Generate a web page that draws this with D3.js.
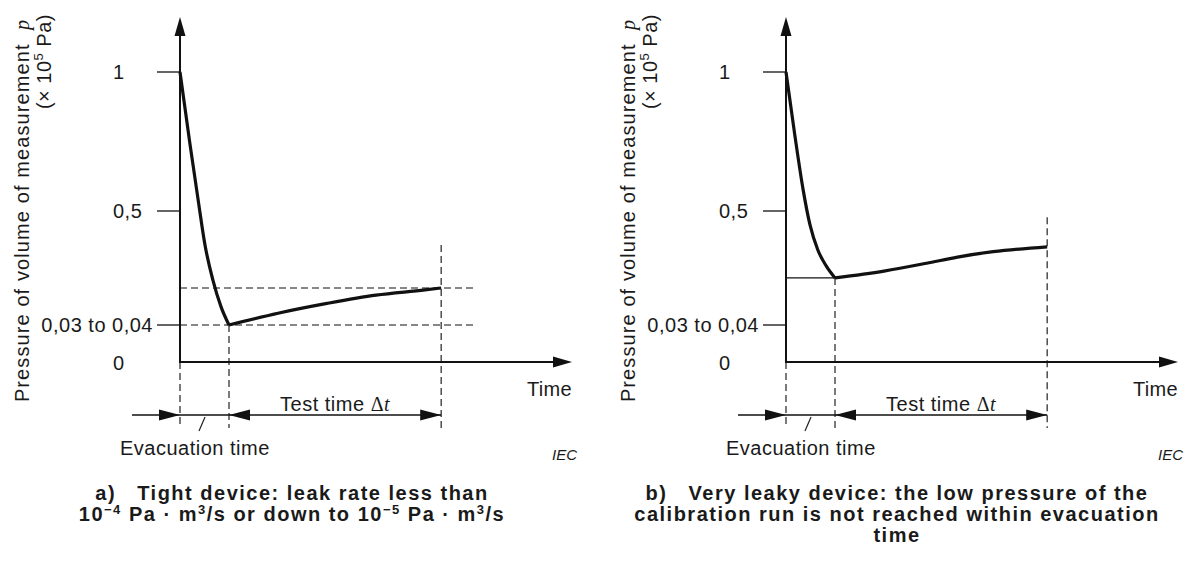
<!DOCTYPE html>
<html>
<head>
<meta charset="utf-8">
<script src="https://cdn.jsdelivr.net/npm/d3@7/dist/d3.min.js"></script>
<style>
  body { margin: 0; background: #fff; }
  text { font-family: 'Liberation Sans', Arial, sans-serif; fill: #1a1a1a; }
</style>
</head>
<body>
<div id="chart"></div>
<script>
// values (time in arbitrary units, pressure in 10^5 Pa)
const yTickValues = [1, 0.5, 0.035, 0];
const yTickLabels = ['1', '0,5', '0,03 to 0,04', '0'];
const timeMax = 8;

// a) tight device
const descentTimeA = [0, 0.2, 0.37, 0.51, 0.67, 0.84, 1];
const descentPressureA = [1, 0.745, 0.54, 0.361, 0.219, 0.108, 0.035];
const riseTimeA = [1, 2, 3, 4, 5, 5.33];
const risePressureA = [0.035, 0.083, 0.123, 0.157, 0.178, 0.186];
const levelsA = [0.186, 0.035];

// b) very leaky device
const descentTimeB = [0, 0.18, 0.35, 0.49, 0.65, 0.82, 1];
const descentPressureB = [1, 0.773, 0.576, 0.443, 0.341, 0.276, 0.227];
const riseTimeB = [1, 2, 2.87, 3.5, 4.23, 5.33];
const risePressureB = [0.227, 0.255, 0.287, 0.312, 0.334, 0.354];
const levelsB = [0.227];

const captionA = ['a)   Tight device: leak rate less than',
  '10^{\u22124} Pa \u00b7 m^{3}/s or down to 10^{\u22125} Pa \u00b7 m^{3}/s'];
const captionB = ['b)   Very leaky device: the low pressure of the',
  'calibration run is not reached within evacuation',
  'time'];

(function() {

  const svgSize = { x: 1189, y: 570 };
  const plot = { top: 17, width: 392 };
  const yRange = [72, 211, 325, 362];

  const panels = [
    { axisX: 180, captionX: 292, caption: captionA,
      descent: d3.zip(descentTimeA, descentPressureA),
      rise: d3.zip(riseTimeA, risePressureA),
      levels: levelsA, levelEnd: 6.02, levelDash: '7,4', markTop: 0.361 },
    { axisX: 786, captionX: 897, caption: captionB,
      descent: d3.zip(descentTimeB, descentPressureB),
      rise: d3.zip(riseTimeB, risePressureB),
      levels: levelsB, levelEnd: 1, levelDash: null, markTop: 0.475 }
  ];

  let svg = d3.select('#chart')
    .append('svg')
    .attr('width', svgSize.x)
    .attr('height', svgSize.y);

  function arrowHead(g, tx, ty, dir, len, half) {
    // dir: 'up', 'right', 'left'
    let pts;
    if (dir == 'up') pts = [[tx, ty], [tx - half, ty + len], [tx + half, ty + len]];
    else if (dir == 'right') pts = [[tx, ty], [tx - len, ty - half], [tx - len, ty + half]];
    else pts = [[tx, ty], [tx + len, ty - half], [tx + len, ty + half]];
    g.append('path')
      .attr('d', 'M' + pts.join('L') + 'Z')
      .attr('fill', '#111');
  }

  function vline(g, xx, y1, y2, dash) {
    g.append('line')
      .attr('x1', xx).attr('x2', xx)
      .attr('y1', y1).attr('y2', y2)
      .attr('stroke', '#222')
      .attr('stroke-width', 1.2)
      .attr('stroke-dasharray', dash);
  }

  function hline(g, x1, x2, yy, dash, w) {
    g.append('line')
      .attr('x1', x1).attr('x2', x2)
      .attr('y1', yy).attr('y2', yy)
      .attr('stroke', '#111')
      .attr('stroke-width', w || 1.2)
      .attr('stroke-dasharray', dash);
  }

  // text with ^{...} superscripts
  function richText(t, str, supSize, shift) {
    const parts = str.split(/\^\{([^}]*)\}/);
    let shifted = false;
    parts.forEach((part, i) => {
      if (part === '') return;
      const span = t.append('tspan').text(part);
      if (i % 2 == 1) {
        span.attr('font-size', supSize).attr('dy', shifted ? 0 : -shift);
        shifted = true;
      } else {
        span.attr('dy', shifted ? shift : 0);
        shifted = false;
      }
    });
  }

  function drawPanel(p) {
    const g = svg.append('g');
    const x = d3.scaleLinear().domain([0, timeMax]).range([p.axisX, p.axisX + plot.width]);
    const y = d3.scaleLinear().domain(yTickValues).range(yRange);
    const x0 = x(0), y0 = y(0);
    const pMin = p.rise[0][1];
    const tEvac = p.rise[0][0];
    const tTest = p.rise[p.rise.length - 1][0];
    const dimY = y0 + 53;
    const markBottom = y0 + 66;

    // reference levels
    p.levels.forEach(v => hline(g, x0, x(p.levelEnd), y(v), p.levelDash, 1.2));

    // vertical marks
    vline(g, x0, y0, markBottom, '7,4');
    vline(g, x(tEvac), y(pMin), markBottom, '7,4');
    vline(g, x(tTest), y(p.markTop), markBottom, '7,4');

    // y ticks and labels
    yTickValues.forEach((v, i) => {
      if (v > 0) hline(g, x0 - 23, x0, y(v), null, 1.3);
      const label = yTickLabels[i];
      g.append('text')
        .attr('x', label.length > 4 ? x0 - 27 : x0 - 67)
        .attr('y', y(v) + (v > 0 ? 7 : 8))
        .attr('text-anchor', label.length > 4 ? 'end' : 'start')
        .attr('font-size', 20)
        .attr('letter-spacing', 0.5)
        .text(label);
    });

    // axes
    g.append('line')
      .attr('x1', x0).attr('x2', x0)
      .attr('y1', y0).attr('y2', plot.top + 12)
      .attr('stroke', '#111').attr('stroke-width', 2);
    arrowHead(g, x0, plot.top, 'up', 19, 5.5);
    g.append('line')
      .attr('x1', x0 - 1).attr('x2', x(timeMax) - 12)
      .attr('y1', y0).attr('y2', y0)
      .attr('stroke', '#111').attr('stroke-width', 2);
    arrowHead(g, x(timeMax), y0, 'right', 19, 5.5);

    // pressure curve
    const line = d3.line()
      .x(d => x(d[0]))
      .y(d => y(d[1]))
      .curve(d3.curveMonotoneX);
    [p.descent, p.rise].forEach(seg => {
      g.append('path')
        .datum(seg)
        .attr('d', line)
        .attr('fill', 'none')
        .attr('stroke', '#111')
        .attr('stroke-width', 3.2)
        .attr('stroke-linejoin', 'round');
    });

    // dimension line
    hline(g, x0 - 48, x(tTest), dimY, null, 1.3);
    arrowHead(g, x0, dimY, 'right', 21, 5.5);
    arrowHead(g, x(tEvac), dimY, 'left', 21, 5.5);
    arrowHead(g, x(tTest), dimY, 'right', 21, 5.5);
    g.append('line')
      .attr('x1', x0 + 25).attr('y1', dimY + 2)
      .attr('x2', x0 + 19).attr('y2', dimY + 16)
      .attr('stroke', '#222').attr('stroke-width', 1.2);

    let testText = g.append('text')
      .attr('x', (x(tEvac) + x(tTest)) / 2)
      .attr('y', dimY - 4)
      .attr('text-anchor', 'middle')
      .attr('font-size', 20)
      .attr('letter-spacing', 0.5);
    testText.append('tspan').text('Test time ');
    testText.append('tspan').attr('font-family', 'Liberation Serif').text('\u0394');
    testText.append('tspan').attr('font-family', 'Liberation Serif').attr('font-style', 'italic').text('t');

    g.append('text')
      .attr('x', x0 - 60).attr('y', y0 + 93)
      .attr('font-size', 20).attr('letter-spacing', 0.5)
      .text('Evacuation time');

    g.append('text')
      .attr('x', x(timeMax)).attr('y', y0 + 34)
      .attr('text-anchor', 'end')
      .attr('font-size', 20).attr('letter-spacing', 0.3)
      .text('Time');

    g.append('text')
      .attr('x', x0 + 397).attr('y', y0 + 98)
      .attr('text-anchor', 'end')
      .attr('font-size', 15).attr('font-style', 'italic')
      .text('IEC');

    // y axis title
    let t1 = g.append('text')
      .attr('transform', `translate(${x0 - 151}, 19) rotate(-90)`)
      .attr('text-anchor', 'end')
      .attr('font-size', 20).attr('letter-spacing', 1.1)
      .style('white-space', 'pre');
    t1.append('tspan').text('Pressure of volume of measurement  ');
    t1.append('tspan').attr('font-family', 'Liberation Serif').attr('font-style', 'italic').text('p');

    let t2 = g.append('text')
      .attr('transform', `translate(${x0 - 129}, 14) rotate(-90)`)
      .attr('text-anchor', 'end')
      .attr('font-size', 20).attr('letter-spacing', 0.5)
      .style('white-space', 'pre');
    richText(t2, '(\u00d7 10^{5} Pa)', 13, 8);

    // caption
    p.caption.forEach((str, i) => {
      let c = svg.append('text')
        .attr('x', p.captionX)
        .attr('y', 500 + i * 21)
        .attr('text-anchor', 'middle')
        .attr('font-size', 20)
        .attr('font-weight', 'bold')
        .attr('letter-spacing', 1.5)
        .style('white-space', 'pre');
      richText(c, str, 13, 7);
    });
  }

  panels.forEach(drawPanel);
}());
</script>
</body>
</html>
